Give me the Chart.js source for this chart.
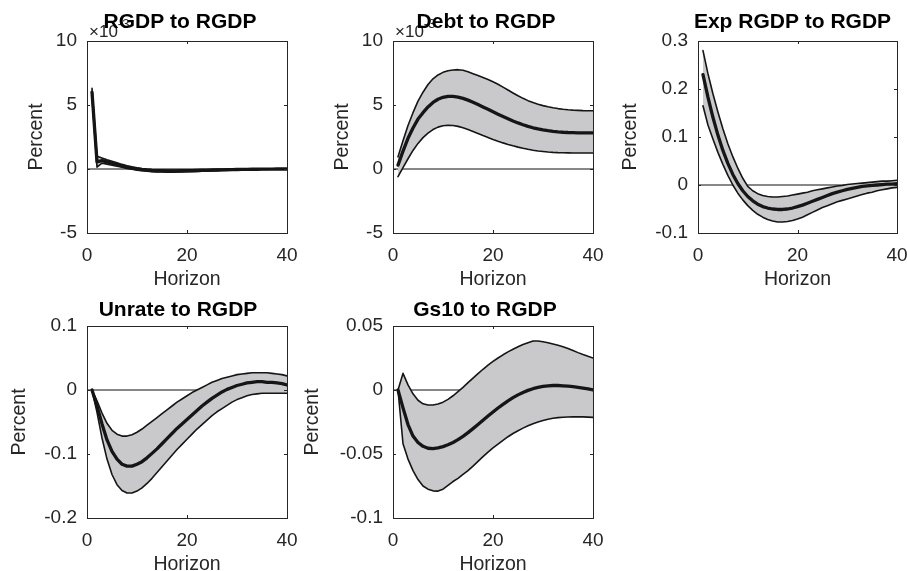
<!DOCTYPE html>
<html><head><meta charset="utf-8">
<script src="https://cdn.jsdelivr.net/npm/chart.js@4/dist/chart.umd.min.js"></script>
<style>
html,body{margin:0;padding:0;background:#fff;overflow:hidden;width:907px;height:571px}
canvas{position:absolute;display:block}
</style></head><body>
<canvas id="c1" width="300" height="290" style="left:0px;top:0px"></canvas>
<canvas id="c2" width="306" height="290" style="left:300px;top:0px"></canvas>
<canvas id="c3" width="301" height="290" style="left:606px;top:0px"></canvas>
<canvas id="c4" width="300" height="290" style="left:0px;top:290px"></canvas>
<canvas id="c5" width="306" height="290" style="left:300px;top:290px"></canvas>
<script>
// ---------------- data ----------------
const horizons = [1,2,3,4,5,6,7,8,9,10,11,12,13,14,15,16,17,18,19,20,21,22,23,24,25,26,27,28,29,30,31,32,33,34,35,36,37,38,39,40];
const zeroLineX = [0, 40];
const zeroLineY = [0, 0];

// RGDP to RGDP (units of 1e-3)
const rgdpUpper  = [6.3,1.0,0.85,0.72,0.6,0.48,0.36,0.26,0.17,0.1, 0.04,-0.01,-0.04,-0.06,-0.07,-0.08,-0.08,-0.08,-0.07,-0.07, -0.06,-0.05,-0.05,-0.04,-0.03,-0.03,-0.02,-0.02,-0.01,-0.01, -0.01,0,0,0,0,0.01,0.01,0.01,0.01,0.01];
const rgdpMedian = [6.0,0.55,0.65,0.55,0.45,0.35,0.25,0.15,0.07,0.0, -0.05,-0.09,-0.12,-0.14,-0.15,-0.16,-0.16,-0.16,-0.15,-0.14, -0.13,-0.12,-0.11,-0.1,-0.09,-0.08,-0.07,-0.06,-0.05,-0.04, -0.03,-0.03,-0.02,-0.02,-0.01,-0.01,-0.01,0,0,0];
const rgdpLower  = [5.7,0.15,0.45,0.38,0.3,0.22,0.14,0.05,-0.02,-0.09, -0.14,-0.18,-0.21,-0.23,-0.24,-0.25,-0.25,-0.24,-0.23,-0.22, -0.21,-0.19,-0.18,-0.16,-0.15,-0.13,-0.12,-0.1,-0.09,-0.08, -0.07,-0.06,-0.05,-0.04,-0.03,-0.03,-0.02,-0.02,-0.01,-0.01];

// Debt to RGDP (units of 1e-3)
const debtUpper  = [0.95,2.2,3.4,4.4,5.3,6.0,6.6,7.05,7.35,7.55, 7.68,7.74,7.76,7.72,7.6,7.45,7.3,7.15,7.0,6.82, 6.62,6.4,6.17,5.94,5.72,5.52,5.34,5.19,5.06,4.95, 4.86,4.78,4.72,4.67,4.63,4.6,4.58,4.56,4.55,4.55];
const debtMedian = [0.3,1.4,2.4,3.2,3.9,4.4,4.85,5.2,5.45,5.6, 5.68,5.68,5.62,5.52,5.38,5.22,5.04,4.85,4.66,4.47, 4.28,4.1,3.92,3.75,3.6,3.46,3.33,3.22,3.13,3.05, 2.99,2.94,2.9,2.87,2.85,2.84,2.83,2.83,2.83,2.83];
const debtLower  = [-0.6,0.1,0.8,1.45,2.0,2.45,2.8,3.08,3.27,3.38, 3.42,3.4,3.33,3.22,3.08,2.93,2.77,2.61,2.46,2.31, 2.17,2.04,1.92,1.81,1.71,1.62,1.54,1.47,1.41,1.37, 1.33,1.3,1.28,1.27,1.26,1.25,1.25,1.25,1.25,1.25];

// Exp RGDP to RGDP
const expUpper  = [0.28,0.232,0.19,0.152,0.117,0.086,0.059,0.035,0.014,-0.003, -0.012,-0.018,-0.022,-0.024,-0.025,-0.025,-0.024,-0.023,-0.021,-0.019, -0.017,-0.015,-0.012,-0.01,-0.008,-0.006,-0.004,-0.002,-0.001,0.001, 0.002,0.003,0.004,0.005,0.006,0.007,0.008,0.008,0.009,0.01];
const expMedian = [0.23,0.183,0.141,0.104,0.072,0.045,0.022,0.003,-0.012,-0.024, -0.033,-0.04,-0.045,-0.048,-0.05,-0.051,-0.051,-0.05,-0.048,-0.045, -0.042,-0.038,-0.034,-0.03,-0.026,-0.022,-0.018,-0.015,-0.012,-0.009, -0.007,-0.005,-0.003,-0.002,-0.001,0,0.001,0.002,0.002,0.003];
const expLower  = [0.165,0.125,0.096,0.068,0.043,0.02,0.0,-0.017,-0.031,-0.043, -0.053,-0.061,-0.067,-0.072,-0.075,-0.077,-0.077,-0.076,-0.074,-0.071, -0.067,-0.062,-0.057,-0.052,-0.047,-0.043,-0.039,-0.035,-0.032,-0.029, -0.026,-0.023,-0.02,-0.017,-0.015,-0.012,-0.01,-0.008,-0.006,-0.005];

// Unrate to RGDP
const unrateUpper  = [0,-0.017,-0.036,-0.052,-0.063,-0.069,-0.072,-0.072,-0.07,-0.066, -0.061,-0.055,-0.049,-0.043,-0.037,-0.031,-0.025,-0.019,-0.014,-0.009, -0.004,0.0,0.004,0.008,0.012,0.015,0.018,0.02,0.022,0.024, 0.025,0.026,0.027,0.027,0.027,0.027,0.026,0.025,0.024,0.022];
const unrateMedian = [0,-0.025,-0.053,-0.078,-0.096,-0.108,-0.116,-0.119,-0.119,-0.116, -0.112,-0.106,-0.099,-0.092,-0.084,-0.076,-0.068,-0.06,-0.053,-0.046, -0.039,-0.032,-0.025,-0.019,-0.013,-0.008,-0.003,0.001,0.004,0.007, 0.009,0.011,0.012,0.013,0.013,0.012,0.012,0.011,0.01,0.008];
const unrateLower  = [0,-0.035,-0.075,-0.108,-0.132,-0.148,-0.157,-0.161,-0.161,-0.158, -0.153,-0.146,-0.138,-0.129,-0.12,-0.111,-0.102,-0.093,-0.085,-0.077, -0.069,-0.061,-0.054,-0.047,-0.04,-0.034,-0.029,-0.024,-0.019,-0.015, -0.012,-0.009,-0.007,-0.006,-0.005,-0.005,-0.005,-0.005,-0.005,-0.005];

// Gs10 to RGDP
const gs10Upper  = [0,0.013,0.004,-0.003,-0.008,-0.0108,-0.0117,-0.0117,-0.011,-0.0095, -0.0073,-0.0045,-0.0013,0.0021,0.0057,0.0093,0.0128,0.0162,0.0194,0.0223, 0.025,0.0275,0.0298,0.0318,0.0338,0.0355,0.037,0.0383,0.0383,0.0377, 0.0369,0.036,0.035,0.0338,0.0324,0.0308,0.0292,0.0277,0.0263,0.025];
const gs10Median = [0,-0.014,-0.027,-0.036,-0.041,-0.044,-0.0455,-0.0458,-0.0452,-0.0442, -0.0428,-0.041,-0.0388,-0.0362,-0.0333,-0.0302,-0.027,-0.0237,-0.0204,-0.0172, -0.0141,-0.0112,-0.0085,-0.006,-0.0038,-0.0019,-0.0003,0.001,0.002,0.0028, 0.0033,0.0035,0.0035,0.0033,0.003,0.0026,0.0021,0.0015,0.0008,0.0];
const gs10Lower  = [0,-0.042,-0.054,-0.063,-0.07,-0.075,-0.0775,-0.0788,-0.079,-0.0775, -0.0745,-0.0715,-0.069,-0.066,-0.063,-0.0595,-0.0558,-0.052,-0.0485,-0.0452, -0.0422,-0.0393,-0.0365,-0.034,-0.0318,-0.0298,-0.028,-0.0264,-0.025,-0.0238, -0.0228,-0.0221,-0.0216,-0.0213,-0.0211,-0.021,-0.021,-0.021,-0.0212,-0.0214];

const titles = ['RGDP to RGDP','Debt to RGDP','Exp RGDP to RGDP','Unrate to RGDP','Gs10 to RGDP'];
const xTicks = [0, 20, 40];
const yRangeRgdp = [-5, 10, 5];
const yRangeDebt = [-5, 10, 5];
const yRangeExp = [-0.1, 0.3, 0.1];
const yRangeUnrate = [-0.2, 0.1, 0.1];
const yRangeGs10 = [-0.1, 0.05, 0.05];

// ---------------- style ----------------
const FONT = "'Liberation Sans', Arial, Helvetica, sans-serif";
const INK = '#262626';
const LINE = '#151515';
const BAND = '#c9c9cb';
const TICK_SIZE = 19;
const LABEL_SIZE = 19.5;

function pts(vals){ return horizons.map((h,i)=>({x:h, y:vals[i]})); }
function fmt(v){ const r = Math.round(v*100000)/100000; return String(r); }

const boxPlugin = {
  id: 'matlabBox',
  afterDatasetsDraw(chart){
    const {ctx, chartArea:a, scales:{x, y}} = chart;
    ctx.save();
    ctx.strokeStyle = INK; ctx.lineWidth = 1;
    ctx.beginPath();
    const L = 3;
    x.ticks.forEach(t=>{
      const px = Math.round(x.getPixelForValue(t.value)) + 0.5;
      ctx.moveTo(px, a.bottom); ctx.lineTo(px, a.bottom - L);
      ctx.moveTo(px, a.top); ctx.lineTo(px, a.top + L);
    });
    y.ticks.forEach(t=>{
      const py = Math.round(y.getPixelForValue(t.value)) + 0.5;
      ctx.moveTo(a.left, py); ctx.lineTo(a.left + L, py);
      ctx.moveTo(a.right, py); ctx.lineTo(a.right - L, py);
    });
    ctx.stroke();
    ctx.strokeRect(Math.round(a.left)+0.5, Math.round(a.top)+0.5, Math.round(a.right-a.left), Math.round(a.bottom-a.top));
    ctx.restore();
  }
};

const titlePlugin = {
  id: 'panelTitle',
  afterDraw(chart, args, opts){
    const {ctx, chartArea:a} = chart;
    ctx.save();
    if (opts.exponent){
      ctx.fillStyle = INK;
      ctx.textAlign = 'left'; ctx.textBaseline = 'alphabetic';
      ctx.font = '17px ' + FONT;
      ctx.fillText('\u00d710', a.left + 2, a.top - 4);
      const w = ctx.measureText('\u00d710').width;
      ctx.font = '13px ' + FONT;
      ctx.fillText(opts.exponent, a.left + 2 + w, a.top - 13);
    }
    ctx.fillStyle = '#000';
    ctx.font = 'bold 21px ' + FONT;
    ctx.textAlign = 'center'; ctx.textBaseline = 'middle';
    ctx.fillText(opts.text, (a.left + a.right)/2 + opts.dx, opts.y);
    ctx.restore();
  }
};

function makePanel(id, p){
  const datasets = [
    {label:'zero', data: zeroLineX.map((x,i)=>({x, y: zeroLineY[i]})), borderColor:'#111', borderWidth:1, pointRadius:0, order:10, fill:false},
    {label:'upper', data: pts(p.upper), borderColor:LINE, borderWidth:1.6, pointRadius:0, order:2, fill:2, backgroundColor:BAND},
    {label:'lower', data: pts(p.lower), borderColor:LINE, borderWidth:1.6, pointRadius:0, order:1, fill:false},
    {label:'median', data: pts(p.median), borderColor:LINE, borderWidth:3.3, pointRadius:0, order:0, fill:false}
  ];
  new Chart(document.getElementById(id), {
    type:'line',
    data:{datasets},
    plugins:[boxPlugin, titlePlugin],
    options:{
      responsive:false, animation:false, devicePixelRatio:1, events:[],
      layout:{padding:{left:0, top:p.top, right:p.right, bottom:0}},
      elements:{line:{tension:0, borderJoinStyle:'round', borderCapStyle:'round'}},
      plugins:{
        legend:{display:false}, tooltip:{enabled:false}, title:{display:false},
        filler:{propagate:false},
        panelTitle:{text:p.title, dx:p.dx, y:p.titleY, exponent:p.exponent}
      },
      scales:{
        x:{type:'linear', min:xTicks[0], max:xTicks[xTicks.length-1],
           afterBuildTicks(s){ s.ticks = xTicks.map(v=>({value:v})); },
           ticks:{color:INK, font:{family:FONT, size:TICK_SIZE}, padding:11, maxRotation:0, autoSkip:false, callback:fmt},
           grid:{display:false, drawTicks:false}, border:{display:false},
           title:{display:true, text:'Horizon', color:INK, font:{family:FONT, size:LABEL_SIZE}, padding:{top:0, bottom:p.hPad}},
           afterFit(s){ s.height = p.xh; s.paddingLeft = 0; s.paddingRight = 0; }},
        y:{type:'linear', min:p.yr[0], max:p.yr[1],
           ticks:{stepSize:p.yr[2], color:INK, font:{family:FONT, size:TICK_SIZE}, padding:10, autoSkip:false, callback:fmt},
           grid:{display:false, drawTicks:false}, border:{display:false},
           title:{display:true, text:'Percent', color:INK, font:{family:FONT, size:LABEL_SIZE}, padding:{top:p.pPad, bottom:0}},
           afterFit(s){ s.width = p.yw; s.paddingTop = 0; s.paddingBottom = 0; }}
      }
    }
  });
}

makePanel('c1', {title:titles[0], upper:rgdpUpper, median:rgdpMedian, lower:rgdpLower, yr:yRangeRgdp, exponent:'-3',
  top:41, right:13, yw:87, xh:57, dx:-7, titleY:22.5, hPad:-1, pPad:25});
makePanel('c2', {title:titles[1], upper:debtUpper, median:debtMedian, lower:debtLower, yr:yRangeDebt, exponent:'-3',
  top:41, right:13, yw:93, xh:57, dx:-7, titleY:22.5, hPad:-1, pPad:30.5});
makePanel('c3', {title:titles[2], upper:expUpper, median:expMedian, lower:expLower, yr:yRangeExp, exponent:null,
  top:41, right:10, yw:92, xh:57, dx:-5, titleY:22.5, hPad:-1, pPad:12.5});
makePanel('c4', {title:titles[3], upper:unrateUpper, median:unrateMedian, lower:unrateLower, yr:yRangeUnrate, exponent:null,
  top:36, right:13, yw:87, xh:62, dx:-9, titleY:20.5, hPad:4, pPad:7.5});
makePanel('c5', {title:titles[4], upper:gs10Upper, median:gs10Median, lower:gs10Lower, yr:yRangeGs10, exponent:null,
  top:36, right:13, yw:93, xh:62, dx:-8, titleY:20.5, hPad:4, pPad:0.5});
</script>
</body></html>
